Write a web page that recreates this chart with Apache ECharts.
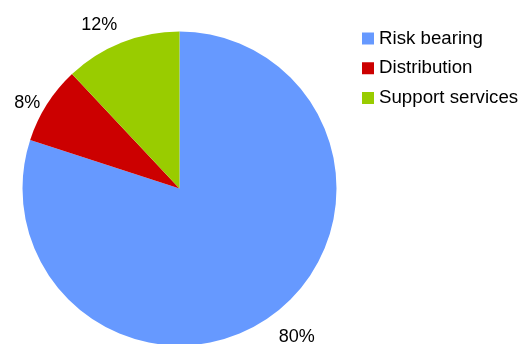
<!DOCTYPE html>
<html>
<head>
<meta charset="utf-8">
<script src="https://cdn.jsdelivr.net/npm/echarts@6/dist/echarts.min.js"></script>
<style>
  html, body { margin: 0; padding: 0; background: #fff; }
  #chart { width: 520px; height: 344px; }
</style>
</head>
<body>
<div id="chart"></div>
<script>
// Revenue split by activity
var categories = ['Risk bearing', 'Distribution', 'Support services'];
var shares = [80, 8, 12];
var colors = ['#6699ff', '#cc0000', '#99cc00'];

var CX = 179.5, CY = 188.5, R = 157;
var FONT = '"Liberation Sans", Arial, sans-serif';

var total = shares.reduce(function (a, b) { return a + b; }, 0);

// Place each percentage just outside the rim, anchored on the slice's mid-angle
function placeLabel(params) {
  var i = params.dataIndex;
  var before = 0;
  for (var k = 0; k < i; k++) before += shares[k];
  var mid = (before + shares[i] / 2) / total * Math.PI * 2; // clockwise from 12 o'clock
  var ux = Math.sin(mid), uy = -Math.cos(mid);
  var side = Math.abs(uy) < 0.6;
  var d = side ? R + 8 : R + 12;
  return {
    x: CX + d * ux,
    y: CY + d * uy + 3,
    align: Math.abs(ux) < 0.15 ? 'center' : (ux < 0 ? 'right' : 'left'),
    verticalAlign: side ? 'middle' : (uy < 0 ? 'bottom' : 'top')
  };
}

var chart = echarts.init(document.getElementById('chart'), null, { renderer: 'canvas' });
chart.setOption({
  animation: false,
  color: colors,
  legend: {
    orient: 'vertical',
    left: 357,
    top: 24,
    icon: 'rect',
    itemWidth: 12,
    itemHeight: 12,
    itemGap: 10.75,
    textStyle: { fontFamily: FONT, fontSize: 18.7, lineHeight: 18, color: '#000' },
    data: categories
  },
  series: [{
    type: 'pie',
    center: [CX, CY],
    radius: R,
    startAngle: 90,
    clockwise: true,
    avoidLabelOverlap: false,
    label: {
      show: true,
      position: 'outside',
      formatter: '{c}%',
      fontFamily: FONT,
      fontSize: 18,
      color: '#000'
    },
    labelLine: { show: false },
    labelLayout: placeLabel,
    emphasis: { disabled: true },
    data: categories.map(function (name, i) {
      return { name: name, value: shares[i] };
    })
  }]
});
</script>
</body>
</html>
